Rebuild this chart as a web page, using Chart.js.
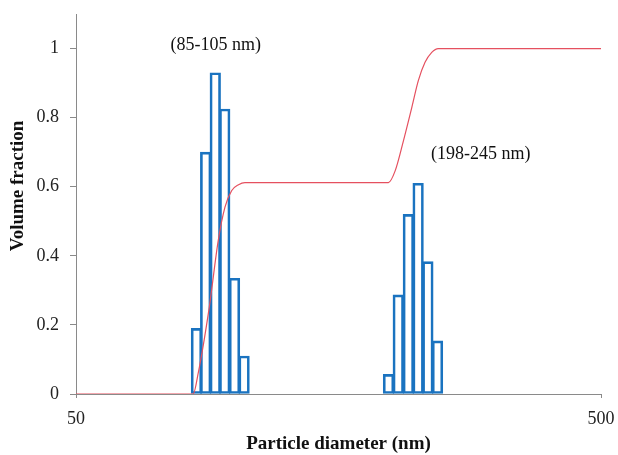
<!DOCTYPE html>
<html>
<head>
<meta charset="utf-8">
<script src="https://cdn.jsdelivr.net/npm/chart.js@4/dist/chart.umd.min.js"></script>
<style>
  body { margin: 0; background: #fff; }
</style>
</head>
<body>
<canvas id="psdChart" width="618" height="455"></canvas>
<script>
// bins of the volume distribution (two populations)
const barDiameter = [84.8, 88.3, 92.1, 96.0, 100.2, 104.5, 196.9, 205.5, 214.8, 224.2, 234.0, 244.1];
const barFraction = [0.19, 0.70, 0.93, 0.825, 0.335, 0.11, 0.057, 0.287, 0.52, 0.61, 0.383, 0.154];

// cumulative curve
const cumDiameter = [50, 83.6, 85.4, 89.7, 93.3, 96.1, 99.0, 102.0, 104.9, 196.8, 202.7, 210.2, 218.1, 224.4, 231.1, 238.0, 244.9, 500];
const cumFraction = [0, 0, 0.058, 0.251, 0.444, 0.541, 0.589, 0.606, 0.612, 0.612, 0.646, 0.733, 0.83, 0.907, 0.96, 0.989, 1.0, 1.0];

const xTicks = [50, 500];
const yTicks = [0, 0.2, 0.4, 0.6, 0.8, 1];

const rangeLabels = ['(85-105 nm)', '(198-245 nm)'];
const rangeLabelX = [92.3, 295];
const rangeLabelY = [1.01, 0.693];

const yTitle = 'Volume fraction';
const xTitle = 'Particle diameter (nm)';

const serif = "'Liberation Serif', 'Times New Roman', serif";

const labelPlugin = {
    id: 'rangeLabels',
    afterDatasetsDraw(chart){
        const ctx = chart.ctx;
        const xs = chart.scales.x, ys = chart.scales.y;
        ctx.save();
        ctx.font = '18px ' + serif;
        ctx.fillStyle = '#111';
        ctx.textAlign = 'center';
        ctx.textBaseline = 'middle';
        rangeLabels.forEach((t, i) => {
            ctx.fillText(t, xs.getPixelForValue(rangeLabelX[i]), ys.getPixelForValue(rangeLabelY[i]));
        });
        // y axis title, sits a bit above the middle of the axis like the original
        ctx.translate(18, 186);
        ctx.rotate(-Math.PI / 2);
        ctx.font = 'bold 19px ' + serif;
        ctx.fillText(yTitle, 0, 0);
        ctx.restore();
    }
};

const ctx = document.getElementById('psdChart').getContext('2d');

const chart = new Chart(ctx, {
    data: {
        datasets: [{
            type: 'line',
            label: 'Cumulative',
            data: cumDiameter.map((d, i) => ({x: d, y: cumFraction[i]})),
            borderColor: '#e5505f',
            borderWidth: 1.2,
            pointRadius: 0,
            cubicInterpolationMode: 'monotone',
            order: 0
        }, {
            type: 'bar',
            label: 'Volume fraction',
            data: barDiameter.map((d, i) => ({x: d, y: barFraction[i]})),
            backgroundColor: 'rgba(255,255,255,0)',
            borderColor: '#1a73c0',
            borderWidth: 2,
            borderSkipped: false,
            barThickness: 10.6,
            order: 1
        }]
    },
    options: {
        responsive: false,
        animation: false,
        layout: {padding: {top: 14, right: 17, left: 0, bottom: 0}},
        plugins: {
            legend: {display: false},
            tooltip: {enabled: false}
        },
        scales: {
            x: {
                type: 'logarithmic',
                min: 50,
                max: 500,
                offset: false,
                afterBuildTicks: s => { s.ticks = xTicks.map(v => ({value: v})); },
                afterFit: s => { s.height = 61; s.paddingLeft = 0; s.paddingRight = 0; },
                ticks: {
                    color: '#222',
                    font: {family: serif, size: 18},
                    padding: 10,
                    callback: v => String(v)
                },
                grid: {drawOnChartArea: false, drawTicks: true, tickLength: 4, offset: false, color: '#8a8a8a'},
                border: {display: true, color: '#8a8a8a', width: 1},
                title: {
                    display: true,
                    text: xTitle,
                    color: '#111',
                    font: {family: serif, size: 19, weight: 'bold', lineHeight: 1.2},
                    padding: {top: 0, bottom: 0}
                }
            },
            y: {
                min: 0,
                max: 1.1,
                afterBuildTicks: s => { s.ticks = yTicks.map(v => ({value: v})); },
                afterFit: s => { s.width = 76; s.paddingTop = 0; s.paddingBottom = 0; },
                ticks: {
                    color: '#222',
                    font: {family: serif, size: 18},
                    padding: 11,
                    callback: v => String(v)
                },
                grid: {drawOnChartArea: false, drawTicks: true, tickLength: 6, color: '#8a8a8a'},
                border: {display: true, color: '#8a8a8a', width: 1}
            }
        }
    },
    plugins: [labelPlugin]
});
</script>
</body>
</html>
